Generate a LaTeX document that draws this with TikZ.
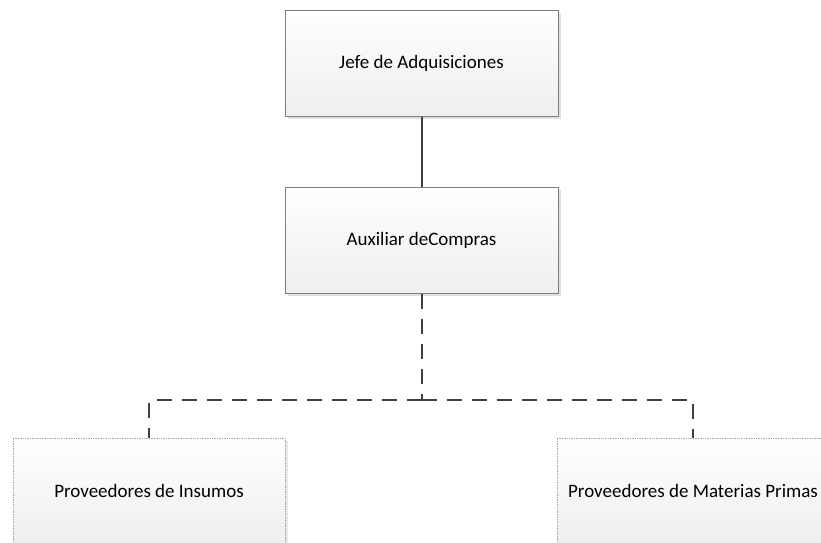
\documentclass[tikz,border=0pt]{standalone}
\usepackage{fontspec}
\setmainfont{Carlito}
\usetikzlibrary{shadows}
\definecolor{linec}{HTML}{404040}
\definecolor{boxb}{HTML}{7F7F7F}
\tikzset{
  orgbox/.style={rectangle, draw=boxb, line width=1pt, top color=white, bottom color=gray!13,
    minimum width=273pt, minimum height=106pt, inner sep=0pt, font=\fontsize{19}{22}\selectfont,
    drop shadow={shadow xshift=3pt, shadow yshift=-3pt, fill=gray!25, opacity=1}},
  extbox/.style={rectangle, draw=gray!70, densely dotted, line width=0.7pt, top color=white, bottom color=gray!13,
    minimum width=272pt, minimum height=106pt, inner sep=0pt, font=\fontsize{19}{22}\selectfont,
    drop shadow={shadow xshift=3pt, shadow yshift=-3pt, fill=gray!18, opacity=1}},
  solidlink/.style={draw=linec, line width=2pt},
  dashlink/.style={draw=linec, line width=2pt, dash pattern=on 15pt off 10pt},
}
\begin{document}
\begin{tikzpicture}[x=1pt, y=-1pt]
\useasboundingbox (0,0) rectangle (821,542);
\clip (0,0) rectangle (821,542);
\node[orgbox] (jefe) at (421.5,63) {Jefe de Adquisiciones};
\node[orgbox] (aux) at (421.5,240) {Auxiliar deCompras};
\node[extbox] (ins) at (149,491) {Proveedores de Insumos};
\node[extbox] (mat) at (693,491) {Proveedores de Materias Primas};
\coordinate (bus) at (421.5,400);
\draw[solidlink] (jefe.south) -- (aux.north);
\draw[dashlink] (aux.south) -- (bus);
\draw[dashlink] (bus) -| (ins.north);
\draw[dashlink] (bus) -| (mat.north);
\end{tikzpicture}
\end{document}
